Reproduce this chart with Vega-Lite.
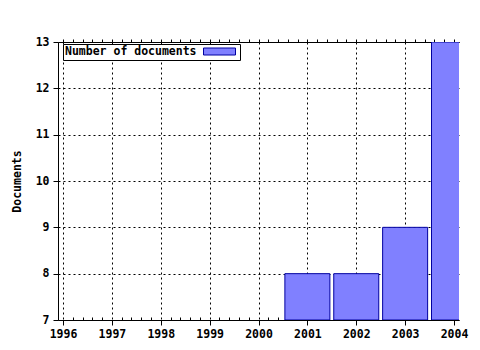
{
  "$schema": "https://vega.github.io/schema/vega-lite/v6.json",
  "width": 401,
  "height": 278,
  "autosize": {"type": "none"},
  "padding": {"left": 58, "top": 42, "right": 21, "bottom": 30},
  "background": "white",
  "config": {
    "view": {"stroke": null},
    "axis": {
      "labelFont": "DejaVu Sans Mono",
      "labelFontWeight": "bold",
      "labelFontSize": 11.5,
      "labelColor": "black",
      "titleFont": "DejaVu Sans Mono",
      "titleFontWeight": "bold",
      "titleFontSize": 11.5,
      "titleColor": "black",
      "domainColor": "black",
      "tickColor": "black",
      "gridColor": "black",
      "gridDash": [2, 3],
      "gridOpacity": 1,
      "gridWidth": 1
    }
  },
  "data": {
    "values": [
      {"year": 2001, "documents": 8},
      {"year": 2002, "documents": 8},
      {"year": 2003, "documents": 9},
      {"year": 2004, "documents": 13}
    ]
  },
  "resolve": {"axis": {"x": "independent"}},
  "layer": [
    {
      "mark": {"type": "bar", "size": 45, "clip": true, "stroke": "#0000a0", "strokeWidth": 1},
      "encoding": {
        "x": {
          "field": "year",
          "type": "quantitative",
          "scale": {"domain": [1996, 2004], "nice": false, "zero": false},
          "axis": {
            "orient": "bottom",
            "title": null,
            "values": [1996, 1997, 1998, 1999, 2000, 2001, 2002, 2003, 2004],
            "format": "d",
            "tickSize": 5,
            "labelPadding": 3,
            "grid": true
          }
        },
        "y": {
          "field": "documents",
          "type": "quantitative",
          "scale": {"domain": [7, 13], "nice": false, "zero": false},
          "axis": {
            "title": "Documents",
            "values": [7, 8, 9, 10, 11, 12, 13],
            "tickSize": 5,
            "labelPadding": 4,
            "titlePadding": 13,
            "grid": true
          }
        },
        "y2": {"datum": 7},
        "color": {
          "datum": "Number of documents",
          "scale": {"range": ["#8080ff"]},
          "legend": {
            "orient": "none",
            "legendX": 5,
            "legendY": 2,
            "title": "Number of documents",
            "titleOrient": "left",
            "titleFont": "DejaVu Sans Mono",
            "titleFontWeight": "bold",
            "titleFontSize": 11.5,
            "titleColor": "black",
            "titlePadding": 17,
            "labelExpr": "''",
            "labelOffset": 0,
            "symbolOffset": 0,
            "symbolType": "M-3.2,-0.7H3.2V0.7H-3.2Z",
            "symbolSize": 100,
            "symbolStrokeColor": "#0000a0",
            "symbolStrokeWidth": 1,
            "symbolFillColor": "#8080ff",
            "strokeColor": "black",
            "fillColor": "white",
            "padding": 2
          }
        }
      }
    },
    {
      "mark": {"type": "point", "opacity": 0},
      "encoding": {
        "x": {
          "field": "year",
          "type": "quantitative",
          "axis": {
            "orient": "top",
            "title": null,
            "labels": false,
            "grid": false,
            "tickSize": 3,
            "values": [1996, 1996.2, 1996.4, 1996.6, 1996.8, 1997, 1997.2, 1997.4, 1997.6, 1997.8, 1998, 1998.2, 1998.4, 1998.6, 1998.8, 1999, 1999.2, 1999.4, 1999.6, 1999.8, 2000, 2000.2, 2000.4, 2000.6, 2000.8, 2001, 2001.2, 2001.4, 2001.6, 2001.8, 2002, 2002.2, 2002.4, 2002.6, 2002.8, 2003, 2003.2, 2003.4, 2003.6, 2003.8, 2004]
          }
        },
        "y": {"field": "documents", "type": "quantitative"}
      }
    },
    {
      "mark": {"type": "point", "opacity": 0},
      "encoding": {
        "x": {
          "field": "year",
          "type": "quantitative",
          "axis": {
            "orient": "bottom",
            "title": null,
            "labels": false,
            "grid": false,
            "domain": false,
            "tickSize": -3,
            "values": [1996.2, 1996.4, 1996.6, 1996.8, 1997.2, 1997.4, 1997.6, 1997.8, 1998.2, 1998.4, 1998.6, 1998.8, 1999.2, 1999.4, 1999.6, 1999.8, 2000.2, 2000.4, 2000.6, 2000.8, 2001.2, 2001.4, 2001.6, 2001.8, 2002.2, 2002.4, 2002.6, 2002.8, 2003.2, 2003.4, 2003.6, 2003.8]
          }
        },
        "y": {"field": "documents", "type": "quantitative"}
      }
    }
  ]
}
